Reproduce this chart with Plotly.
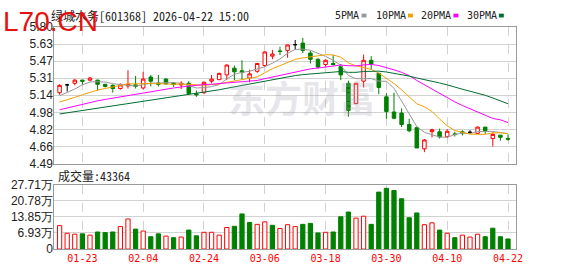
import numpy as np
import plotly.graph_objects as go

W, H = 578, 276

# ---------------- data ----------------
dates = ["01-20", "01-21", "01-22", "01-23", "01-26", "01-27", "01-28", "01-29", "01-30",
         "02-02", "02-03", "02-04", "02-05", "02-06", "02-09", "02-10", "02-11", "02-12", "02-13",
         "02-24", "02-25", "02-26", "02-27", "03-02", "03-03", "03-04", "03-05", "03-06",
         "03-09", "03-10", "03-11", "03-12", "03-13", "03-16", "03-17", "03-18", "03-19", "03-20",
         "03-23", "03-24", "03-25", "03-26", "03-27", "03-30", "03-31", "04-01", "04-02", "04-03",
         "04-07", "04-08", "04-09", "04-10", "04-13", "04-14", "04-15", "04-16", "04-17",
         "04-20", "04-21", "04-22"]

opens = [5.17, 5.245, 5.26, 5.29, 5.29, 5.29, 5.25, 5.24, 5.21, 5.235,
         5.245, 5.215, 5.32, 5.262, 5.30, 5.26, 5.245, 5.26, 5.16, 5.17,
         5.28, 5.295, 5.34, 5.405, 5.38, 5.31, 5.375, 5.43, 5.52, 5.57,
         5.575, 5.63, 5.645, 5.55, 5.49, 5.44, 5.45, 5.42, 5.26, 5.065,
         5.28, 5.48, 5.355, 5.13, 4.985, 4.975, 4.865, 4.835, 4.632, 4.797,
         4.795, 4.748, 4.775, 4.795, 4.79, 4.78, 4.84, 4.73, 4.763, 4.73]
highs = [5.25, 5.255, 5.30, 5.295, 5.32, 5.295, 5.255, 5.25, 5.26, 5.385,
         5.33, 5.37, 5.34, 5.34, 5.31, 5.27, 5.28, 5.28, 5.19, 5.275,
         5.34, 5.36, 5.44, 5.43, 5.48, 5.39, 5.455, 5.565, 5.58, 5.61,
         5.63, 5.675, 5.695, 5.57, 5.50, 5.49, 5.53, 5.445, 5.285, 5.26,
         5.535, 5.52, 5.36, 5.165, 5.17, 5.02, 4.92, 4.845, 4.725, 4.825,
         4.825, 4.82, 4.795, 4.81, 4.81, 4.845, 4.84, 4.79, 4.765, 4.77]
lows = [5.15, 5.18, 5.24, 5.245, 5.28, 5.19, 5.22, 5.17, 5.20, 5.21,
        5.21, 5.20, 5.23, 5.23, 5.245, 5.225, 5.205, 5.155, 5.13, 5.155,
        5.26, 5.29, 5.29, 5.29, 5.30, 5.27, 5.36, 5.42, 5.49, 5.53,
        5.505, 5.58, 5.55, 5.45, 5.40, 5.42, 5.43, 5.29, 4.94, 5.06,
        5.22, 5.39, 5.155, 4.92, 4.915, 4.84, 4.79, 4.64, 4.60, 4.74,
        4.73, 4.735, 4.75, 4.76, 4.775, 4.775, 4.775, 4.655, 4.71, 4.71]
closes = [5.24, 5.245, 5.29, 5.28, 5.31, 5.25, 5.23, 5.21, 5.245, 5.25,
          5.23, 5.30, 5.28, 5.25, 5.255, 5.25, 5.26, 5.16, 5.15, 5.27,
          5.30, 5.355, 5.435, 5.37, 5.365, 5.35, 5.45, 5.56, 5.54, 5.565,
          5.627, 5.63, 5.575, 5.49, 5.415, 5.48, 5.44, 5.34, 5.00, 5.26,
          5.48, 5.445, 5.22, 4.99, 4.925, 4.865, 4.805, 4.64, 4.717, 4.815,
          4.745, 4.80, 4.77, 4.785, 4.79, 4.84, 4.805, 4.77, 4.742, 4.725]

# volume, unit: 万 (last bar 43364)
volumes = [10.05, 6.79, 6.38, 6.52, 5.98, 7.33, 7.06, 7.33, 9.64, 12.90,
           8.56, 7.74, 5.30, 6.52, 5.57, 4.89, 5.16, 8.15, 5.70, 7.20,
           7.20, 5.98, 9.24, 9.78, 15.08, 11.41, 10.60, 11.68, 10.19, 8.83,
           10.46, 9.64, 10.60, 11.00, 6.93, 7.20, 7.33, 13.86, 15.90, 13.30,
           14.10, 10.60, 24.45, 26.08, 25.13, 21.60, 13.45, 15.50, 10.46, 11.27,
           8.15, 6.79, 4.89, 5.98, 5.16, 6.38, 5.30, 8.96, 5.30, 4.34]

ma5 = [5.140, 5.170, 5.205, 5.245, 5.273, 5.275, 5.272, 5.256, 5.249, 5.237,
       5.233, 5.247, 5.261, 5.262, 5.263, 5.267, 5.259, 5.235, 5.215, 5.218,
       5.228, 5.247, 5.302, 5.346, 5.365, 5.375, 5.394, 5.419, 5.453, 5.493,
       5.548, 5.584, 5.587, 5.577, 5.547, 5.518, 5.480, 5.433, 5.335, 5.304,
       5.304, 5.305, 5.281, 5.279, 5.212, 5.089, 4.961, 4.845, 4.790, 4.768,
       4.744, 4.743, 4.769, 4.783, 4.778, 4.797, 4.798, 4.798, 4.789, 4.776]
ma10 = [5.080, 5.100, 5.125, 5.150, 5.175, 5.195, 5.210, 5.225, 5.245, 5.255,
        5.254, 5.260, 5.259, 5.256, 5.250, 5.250, 5.253, 5.248, 5.239, 5.241,
        5.248, 5.253, 5.269, 5.281, 5.292, 5.302, 5.321, 5.361, 5.400, 5.429,
        5.462, 5.489, 5.503, 5.515, 5.520, 5.533, 5.532, 5.510, 5.456, 5.426,
        5.411, 5.393, 5.357, 5.307, 5.258, 5.197, 5.133, 5.063, 5.035, 4.990,
        4.917, 4.852, 4.807, 4.787, 4.773, 4.771, 4.771, 4.784, 4.786, 4.777]
ma20 = [5.006, 5.024, 5.042, 5.058, 5.075, 5.092, 5.105, 5.118, 5.131, 5.143,
        5.155, 5.168, 5.180, 5.193, 5.205, 5.215, 5.225, 5.234, 5.242, 5.248,
        5.251, 5.256, 5.264, 5.268, 5.271, 5.276, 5.287, 5.304, 5.319, 5.335,
        5.355, 5.371, 5.386, 5.398, 5.406, 5.417, 5.426, 5.435, 5.428, 5.427,
        5.436, 5.441, 5.430, 5.411, 5.389, 5.365, 5.333, 5.287, 5.245, 5.208,
        5.164, 5.122, 5.082, 5.047, 5.016, 4.984, 4.952, 4.923, 4.910, 4.884]
ma30 = [4.966, 4.977, 4.988, 4.999, 5.010, 5.021, 5.032, 5.043, 5.054, 5.065,
        5.076, 5.087, 5.098, 5.109, 5.120, 5.130, 5.140, 5.150, 5.160, 5.172,
        5.185, 5.198, 5.212, 5.226, 5.240, 5.253, 5.266, 5.280, 5.294, 5.308,
        5.321, 5.334, 5.343, 5.350, 5.354, 5.362, 5.369, 5.373, 5.365, 5.365,
        5.373, 5.378, 5.376, 5.368, 5.357, 5.344, 5.329, 5.311, 5.297, 5.282,
        5.263, 5.245, 5.222, 5.203, 5.184, 5.167, 5.145, 5.119, 5.092, 5.064]

price_tick_labels = ["4.49", "4.66", "4.82", "4.98", "5.14", "5.31", "5.47", "5.63", "5.80"]
vol_tick_labels = ["0", "6.93万", "13.85万", "20.78万", "27.71万"]
x_tick_labels = ["01-23", "02-04", "02-24", "03-06", "03-18", "03-30", "04-10", "04-22"]

title_text = "绿城水务[601368] 2026-04-22 15:00"
vol_title = "成交量:43364"
legend_names = ["5PMA", "10PMA", "20PMA", "30PMA"]

# ---------------- styles ----------------
RED = "#ff0000"
GREEN = "#008000"
C_MA = ["#999999", "#f0a000", "#ff00ff", "#006d32"]
GRID = "#d2d2d2"
FRAME = "#9a9a9a"
NUM_FONT = dict(family="Liberation Sans, Arial, sans-serif", size=12, color="#222222")
MONO = "Noto Sans Mono CJK SC, DejaVu Sans Mono, monospace"


def px(x):
    return x / W


def py(y):
    return 1 - y / H


X_DOM = [px(55), px(522)]
P_DOM = [py(165), py(21)]
V_DOM = [py(255), py(187)]

fig = go.Figure()

# candles split by direction
groups = {
    "up": ([i for i in range(len(dates)) if closes[i] > opens[i]], RED, "white"),
    "down": ([i for i in range(len(dates)) if closes[i] < opens[i]], GREEN, GREEN),
    "flat": ([i for i in range(len(dates)) if closes[i] == opens[i]], "#000000", "#000000"),
}
for name, (idx, lc, fc) in groups.items():
    if not idx:
        continue
    fig.add_trace(go.Candlestick(
        x=[dates[i] for i in idx],
        open=[opens[i] for i in idx], high=[highs[i] for i in idx],
        low=[lows[i] for i in idx], close=[closes[i] for i in idx],
        increasing=dict(line=dict(color=lc, width=1), fillcolor=fc),
        decreasing=dict(line=dict(color=lc, width=1), fillcolor=fc),
        whiskerwidth=0, xaxis="x2", yaxis="y2", hoverinfo="skip", name=name,
    ))

for vals, col in zip([ma5, ma10, ma20, ma30], C_MA):
    fig.add_trace(go.Scatter(x=dates, y=vals, mode="lines", line=dict(color=col, width=1),
                             xaxis="x2", yaxis="y2", hoverinfo="skip"))

# volume bars: colour by change vs previous close
vol_up = [i == 0 or closes[i] >= closes[i - 1] for i in range(len(dates))]
fig.add_trace(go.Bar(
    x=dates, y=volumes, width=0.56,
    marker=dict(color=["white" if u else GREEN for u in vol_up],
                line=dict(color=[RED if u else GREEN for u in vol_up], width=1)),
    xaxis="x", yaxis="y", hoverinfo="skip",
))

xrange = [-0.69, len(dates) - 1 + 1.01]
common_x = dict(type="category", categoryorder="array", categoryarray=dates, range=xrange,
                domain=X_DOM, tickmode="array", tickvals=x_tick_labels, ticktext=x_tick_labels,
                showgrid=True, gridcolor=GRID, griddash="dash", gridwidth=1,
                showline=True, mirror=True, linecolor=FRAME, linewidth=1,
                ticks="", zeroline=False, rangeslider=dict(visible=False), fixedrange=True)

fig.update_layout(
    width=W, height=H, margin=dict(l=0, r=0, t=0, b=0),
    paper_bgcolor="white", plot_bgcolor="white", showlegend=False,
    hovermode=False, boxgap=0.34,
    xaxis=dict(**common_x, anchor="y",
               tickfont=dict(family="DejaVu Sans Mono, monospace", size=10, color=RED)),
    xaxis2=dict(**common_x, anchor="y2", matches="x", showticklabels=False),
    yaxis=dict(domain=V_DOM, range=[0, 27.71], tickmode="array",
               tickvals=list(np.linspace(0, 27.71, len(vol_tick_labels))), ticktext=vol_tick_labels,
               showgrid=True, gridcolor=GRID, showline=True, mirror=True, linecolor=FRAME,
               ticks="", zeroline=False, tickfont=NUM_FONT, fixedrange=True,
               ticklabelstandoff=-2),
    yaxis2=dict(domain=P_DOM, range=[4.49, 5.80], tickmode="array",
                tickvals=list(np.linspace(4.49, 5.80, len(price_tick_labels))), ticktext=price_tick_labels,
                showgrid=True, gridcolor=GRID, showline=True, mirror=True, linecolor=FRAME,
                ticks="", zeroline=False, tickfont=NUM_FONT, fixedrange=True,
                ticklabelstandoff=-2),
)

ann = []
# watermark 东方财富
ann.append(dict(x=px(306), y=py(95), xref="paper", yref="paper", text="<b>东方财富</b>",
                showarrow=False, xanchor="center", yanchor="middle",
                font=dict(family="Noto Sans CJK SC", size=37, color="rgba(170,170,185,0.30)")))
# title
ann.append(dict(x=px(50), y=py(9), xref="paper", yref="paper", text=title_text, showarrow=False,
                xanchor="left", yanchor="middle", font=dict(family=MONO, size=12, color="#222222")))
# volume title
ann.append(dict(x=px(57), y=py(178), xref="paper", yref="paper", text=vol_title, showarrow=False,
                xanchor="left", yanchor="middle", font=dict(family=MONO, size=12, color="#222222")))
# legend
leg_x = [337, 379, 424, 471]
sq_x = [366, 413, 459, 505]
shapes = []
for name, lx, sx, col in zip(legend_names, leg_x, sq_x, C_MA):
    ann.append(dict(x=px(lx), y=py(9), xref="paper", yref="paper", text=name, showarrow=False,
                    xanchor="left", yanchor="middle",
                    font=dict(family="DejaVu Sans Mono, monospace", size=10, color="#222222")))
    shapes.append(dict(type="rect", xref="paper", yref="paper", x0=px(sx), x1=px(sx + 5),
                       y0=py(11), y1=py(7), fillcolor=col, line=dict(width=0)))
# L70.CN watermark
ann.append(dict(x=px(2), y=py(15), xref="paper", yref="paper", text="L70.CN", showarrow=False,
                xanchor="left", yanchor="middle", borderpad=0,
                font=dict(family="Liberation Sans, Arial, sans-serif", size=28, color="#e8100e")))

fig.update_layout(annotations=ann, shapes=shapes)
fig.write_html("out.html")
